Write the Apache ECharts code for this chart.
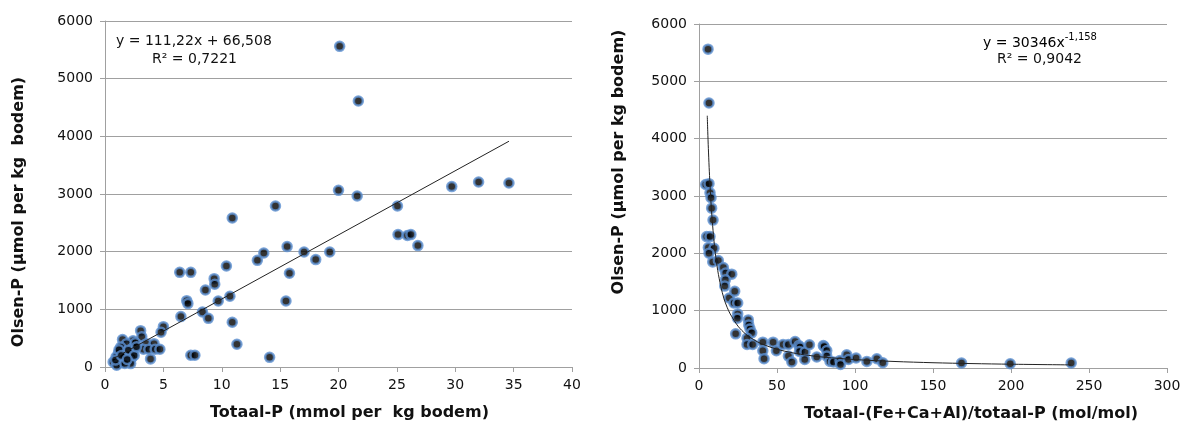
<!DOCTYPE html>
<html>
<head>
<meta charset="utf-8">
<script src="https://cdn.jsdelivr.net/npm/echarts@6.0.0/dist/echarts.min.js"></script>
<style>
  html, body { margin: 0; padding: 0; background: #fff; }
  #chart { width: 1188px; height: 427px; }
</style>
</head>
<body>
<div id="chart"></div>
<script>
// left panel: Olsen-P vs totaal-P
const totaalP = [
  [20.1, 5561], [21.7, 4613], [20.0, 3064], [21.6, 2966], [29.7, 3128], [32.0, 3208], [34.6, 3191],
  [25.05, 2792], [14.6, 2792], [10.9, 2584], [25.1, 2296], [25.9, 2280], [26.2, 2296], [26.8, 2105],
  [15.6, 2088], [13.6, 1977], [17.05, 1995], [19.25, 1995], [18.05, 1862], [13.05, 1850], [10.4, 1752],
  [6.4, 1642], [7.35, 1642], [15.8, 1625], [9.35, 1532], [9.4, 1434], [8.6, 1335], [10.7, 1226],
  [7.0, 1151], [7.1, 1099], [9.7, 1145], [15.5, 1145], [8.35, 954], [8.85, 844], [6.5, 874],
  [10.9, 775], [5.0, 700], [4.8, 602], [11.3, 394], [7.35, 203], [7.7, 203], [14.1, 168],
  [3.05, 630], [3.15, 525], [3.55, 405], [4.2, 405], [3.3, 307], [3.75, 307], [4.3, 307], [4.7, 307],
  [3.9, 140], [1.5, 475], [2.4, 455], [1.85, 405], [2.4, 336], [1.35, 347], [2.4, 255], [1.15, 243],
  [1.8, 220], [2.3, 163], [0.95, 173], [1.55, 116], [0.7, 87], [2.1, 116], [1.3, 69], [2.2, 59],
  [1.0, 30], [1.6, 180], [2.0, 290], [1.2, 300], [2.6, 420], [1.7, 60], [2.5, 200], [0.9, 120],
  [1.4, 200], [2.7, 350], [1.9, 130]
];
const linFit = [[0.7, 144], [34.6, 3915]];

// right panel: Olsen-P vs totaal-(Fe+Ca+Al)/totaal-P
const ratio = [
  [5.8, 5561], [6.4, 4623], [4.3, 3200], [6.4, 3215], [7.05, 3055], [7.7, 2969], [8.1, 2788], [9.0, 2580],
  [4.9, 2292], [7.05, 2292], [6.0, 2100], [9.6, 2088], [6.4, 2002], [8.8, 1851], [12.4, 1875],
  [15.6, 1753], [17.1, 1655], [21, 1637], [16.9, 1538], [16.5, 1429], [19.4, 1220], [22.9, 1337],
  [22.4, 1134], [24.8, 1134], [24.8, 943], [24.6, 868], [23.5, 596], [31.6, 839], [31.9, 752],
  [32.7, 682], [33.8, 613], [30.8, 521], [30.8, 410], [34.4, 410], [40.9, 451], [40.9, 300],
  [41.7, 161], [47.5, 451], [49.6, 300], [53.9, 410], [57.3, 410], [57.3, 208], [59.5, 104],
  [61.6, 462], [64, 392], [64.8, 365], [64.4, 288], [67.9, 278], [67.8, 149], [70.8, 405],
  [75.5, 191], [79.7, 392], [80.2, 375], [81.9, 306], [81.9, 208], [84, 115], [86.2, 104],
  [90.4, 132], [90.7, 63], [94.7, 231], [95.8, 149], [100.7, 174], [107.6, 115], [114, 161],
  [117.8, 92], [168.3, 87], [199.5, 75], [238.6, 87]
];
const powFit = [
  [5.3, 4400], [5.6, 4130], [6, 3830], [6.5, 3500], [7, 3220], [7.5, 2970], [8, 2750], [9, 2400],
  [10, 2110], [11, 1890], [12, 1700], [14, 1420], [16, 1210], [18, 1060], [20, 944], [25, 730],
  [30, 590], [35, 495], [40, 423], [50, 327], [60, 265], [70, 221], [80, 189], [100, 147],
  [125, 114], [150, 92], [175, 77], [200, 66], [238.6, 54]
];

const FONT = 'DejaVu Sans';
const GRID_COLOR = '#a0a0a0';
const DOT = { color: '#000', borderColor: '#5b8fd0', borderWidth: 2.5 };

const chart = echarts.init(document.getElementById('chart'), null, { renderer: 'canvas' });

const xAxisBase = (min, max, interval, name, pad) => ({
  type: 'value', min, max, interval,
  name, nameLocation: 'middle', nameGap: 38,
  nameTextStyle: { fontFamily: FONT, fontWeight: 'bold', fontSize: 16, color: '#111', padding: pad },
  axisLine: { lineStyle: { color: GRID_COLOR } },
  axisTick: { show: true, length: 5, lineStyle: { color: GRID_COLOR } },
  axisLabel: { fontFamily: FONT, fontSize: 14, color: '#111', margin: 11 },
  splitLine: { show: false }
});
const yAxisBase = (name, pad, gap) => ({
  type: 'value', min: 0, max: 6000, interval: 1000,
  name, nameLocation: 'middle', nameGap: gap,
  nameTextStyle: { fontFamily: FONT, fontWeight: 'bold', fontSize: 16, color: '#111', padding: pad },
  axisLine: { show: true, lineStyle: { color: GRID_COLOR } },
  axisTick: { show: true, length: 5, lineStyle: { color: GRID_COLOR } },
  axisLabel: { fontFamily: FONT, fontSize: 14, color: '#111', margin: 12, formatter: (v) => String(v) },
  splitLine: { show: true, lineStyle: { color: GRID_COLOR, width: 1 } }
});

chart.setOption({
  animation: false,
  backgroundColor: '#fff',
  grid: [
    { left: 105, top: 21, width: 467, height: 346 },
    { left: 699, top: 24, width: 468, height: 345 }
  ],
  xAxis: [
    xAxisBase(0, 40, 5, 'Totaal-P (mmol per  kg bodem)', [0, 0, 0, 22]),
    Object.assign(xAxisBase(0, 300, 50, 'Totaal-(Fe+Ca+Al)/totaal-P (mol/mol)', [0, 0, 0, 76]), { gridIndex: 1 })
  ],
  yAxis: [
    yAxisBase('Olsen-P (µmol per kg  bodem)', [0, 36, 0, 0], 78),
    Object.assign(yAxisBase('Olsen-P (µmol per kg bodem)', [0, 0, 0, 68], 72), { gridIndex: 1 })
  ],
  series: [
    {
      type: 'line', xAxisIndex: 0, yAxisIndex: 0, data: linFit,
      showSymbol: false, lineStyle: { color: '#222', width: 1 }, z: 3
    },
    {
      type: 'scatter', xAxisIndex: 0, yAxisIndex: 0, data: totaalP,
      symbolSize: 9, itemStyle: DOT, z: 2
    },
    {
      type: 'line', xAxisIndex: 1, yAxisIndex: 1, data: powFit,
      showSymbol: false, smooth: 0.3, lineStyle: { color: '#222', width: 1 }, z: 3
    },
    {
      type: 'scatter', xAxisIndex: 1, yAxisIndex: 1, data: ratio,
      symbolSize: 9, itemStyle: DOT, z: 2
    }
  ],
  graphic: [
    { type: 'text', left: 116, top: 34, style: { text: 'y = 111,22x + 66,508', font: '14px ' + FONT, fill: '#111' } },
    { type: 'text', left: 152, top: 52, style: { text: 'R² = 0,7221', font: '14px ' + FONT, fill: '#111' } },
    {
      type: 'text', left: 983, top: 32,
      style: {
        text: '{n|y = 30346x}{s|-1,158}',
        rich: {
          n: { fontFamily: FONT, fontSize: 14, color: '#111', lineHeight: 18, verticalAlign: 'bottom' },
          s: { fontFamily: FONT, fontSize: 10, color: '#111', lineHeight: 10, verticalAlign: 'top' }
        }
      }
    },
    { type: 'text', left: 997, top: 52, style: { text: 'R² = 0,9042', font: '14px ' + FONT, fill: '#111' } }
  ]
});
</script>
</body>
</html>
